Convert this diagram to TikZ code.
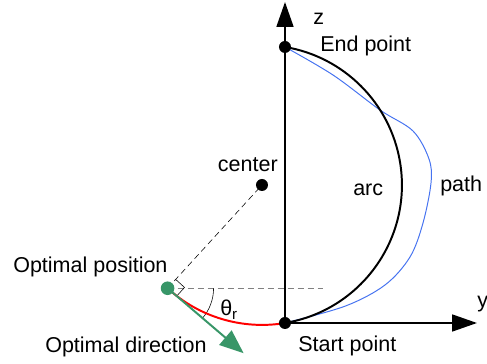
\documentclass[tikz,border=0pt]{standalone}
\usepackage{fontspec}
\setmainfont{Liberation Sans}
\usetikzlibrary{calc, arrows.meta, positioning}
\definecolor{optgreen}{RGB}{56,150,104}
\definecolor{pathblue}{RGB}{70,115,240}

\begin{document}
\begin{tikzpicture}[>={Triangle[length=0.62cm,width=0.42cm]},
  lbl/.style={font=\fontsize{15.3}{18}\selectfont, inner sep=0pt, anchor=base west},
  dot/.style={circle, fill=black, inner sep=0pt, minimum size=0.3cm},
  axis/.style={line width=1.4pt}]
  \useasboundingbox (-7.125,-1.025) rectangle (5.05,8.075);
  % Key points
  \coordinate (O) at (0,0);
  \coordinate (C) at (-0.575,3.45);
  \coordinate (E) at (0,6.9);
  \coordinate (P) at ($(C)+(227.56:3.498)$);
  \coordinate (ztip) at (0,8.025);
  \coordinate (ytip) at (4.8,0);
  \coordinate (D) at ($(P)+(-40.5:2.5)$);
  \coordinate (hend) at (0.95,0);
  % Axes
  \draw[axis,->] (O) -- (ztip);
  \draw[axis,->] (O) -- (ytip);
  % Guide lines
  \draw[gray, dash pattern=on 0.15cm off 0.1cm] (P) -- (P -| hend);
  \draw[dash pattern=on 0.15cm off 0.1cm] (P) -- (C);
  % Right angle mark
  \draw ($(P)+(47.56:0.3)$) -- ($(P)+(47.56:0.3)+(-42.44:0.3)$) -- ($(P)+(-42.44:0.3)$);
  % Angle theta_r
  \draw ($(P)+(1.15,0)$) arc (0:-41.5:1.15);
  % Path
  \draw[pathblue, line width=0.7pt] plot[smooth, tension=0.55] coordinates {(E) (1.2,6.2) (2.375,5.325) (3.2,4.8) (3.6,4.1) (3.65,3.5) (3.45,2.5) (3.125,1.65) (2.5,0.95) (1.5,0.42) (O)};
  % Arcs
  \draw[axis] (O) arc (-80.54:80.54:3.498);
  \draw[red, line width=1.4pt] (P) arc (227.56:279.46:3.498);
  % Optimal direction
  \draw[optgreen, line width=1.4pt, -{Triangle[length=0.6cm,width=0.47cm]}] (P) -- (D);
  % Dots
  \node[dot] (start) at (O) {};
  \node[dot] (end) at (E) {};
  \node[dot] (center) at (C) {};
  \node[dot, fill=optgreen, minimum size=0.34cm] (opt) at (P) {};
  % Labels
  \node[lbl] (zlbl) at (0.7,7.45) {z};
  \node[lbl] (ylbl) at (4.8,0.375) {y};
  \node[lbl] (endlbl) at (0.875,6.775) {End point};
  \node[lbl] (startlbl) at (0.325,-0.725) {Start point};
  \node[lbl, anchor=base east] (ctrlbl) at (-0.175,3.775) {center};
  \node[lbl] (arclbl) at (1.7,3.175) {arc};
  \node[lbl] (pathlbl) at (3.875,3.275) {path};
  \node[lbl] (poslbl) at (-6.8,1.25) {Optimal position};
  \node[lbl] (dirlbl) at (-6.0,-0.75) {Optimal direction};
  \node[lbl] (thlbl) at (-1.625,0.175) {θ\textsubscript{r}};
\end{tikzpicture}
\end{document}
